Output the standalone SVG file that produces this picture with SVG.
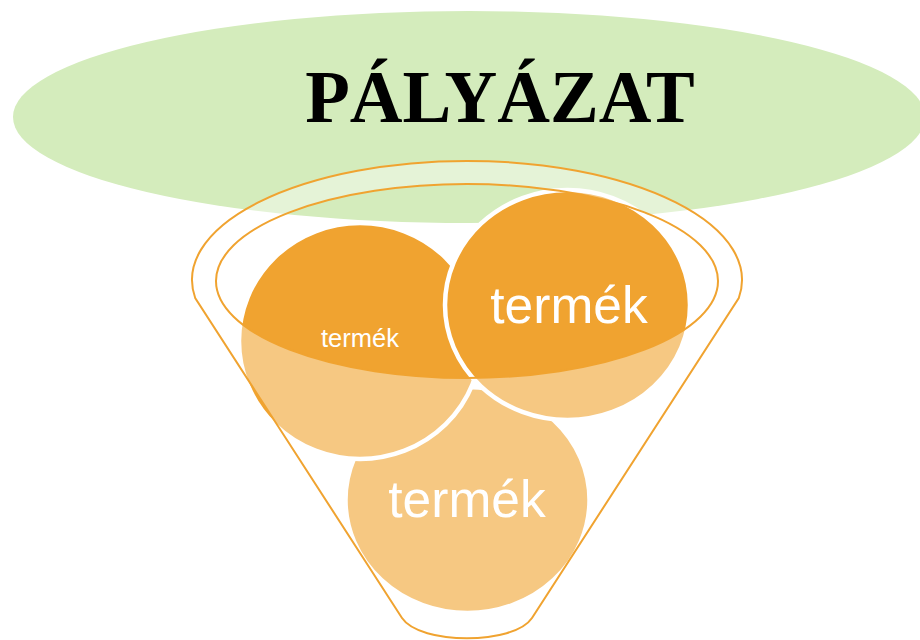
<svg xmlns="http://www.w3.org/2000/svg" width="920" height="640" viewBox="0 0 920 640">
  <style>
    .circle { fill: #F0A330; stroke: #FFFFFF; stroke-width: 4.5; }
    .label { fill: #FFFFFF; font-family: "Liberation Sans", Arial, sans-serif; text-anchor: middle; }
    .edge { fill: none; stroke: #F0A330; stroke-width: 2; }
  </style>
  <rect width="920" height="640" fill="#FFFFFF"/>
  <g id="title">
    <ellipse cx="469" cy="117" rx="456" ry="106" fill="#D4ECBC"/>
    <text x="500" y="122" font-family="'Liberation Serif', 'Times New Roman', serif" font-weight="bold" font-size="73" text-anchor="middle" fill="#000000">PÁLYÁZAT</text>
  </g>
  <g id="products">
    <g id="product-bottom">
      <ellipse class="circle" cx="467.5" cy="500" rx="122" ry="113"/>
    </g>
    <g id="product-left">
      <ellipse class="circle" cx="360" cy="341" rx="121" ry="118"/>
    </g>
    <g id="product-right">
      <ellipse class="circle" cx="567.5" cy="305" rx="122.5" ry="115"/>
    </g>
  </g>
  <g id="funnel">
    <path d="M195.2,298 A275,119 0 1 1 738.8,298 L532,618 C514,645 420,645 402,618 Z M216,281 A251,97 0 1 0 718,281 A251,97 0 1 0 216,281 Z" fill="#FFFFFF" fill-opacity="0.4" fill-rule="evenodd"/>
    <path class="edge" d="M195.2,298 A275,119 0 1 1 738.8,298 L532,618 C514,645 420,645 402,618 Z"/>
    <ellipse class="edge" cx="467" cy="281" rx="251" ry="97"/>
  </g>
  <g id="labels">
    <text class="label" x="360" y="347" font-size="25.5">termék</text>
    <text class="label" x="569" y="323" font-size="51.5">termék</text>
    <text class="label" x="467" y="517" font-size="51.5">termék</text>
  </g>
</svg>
